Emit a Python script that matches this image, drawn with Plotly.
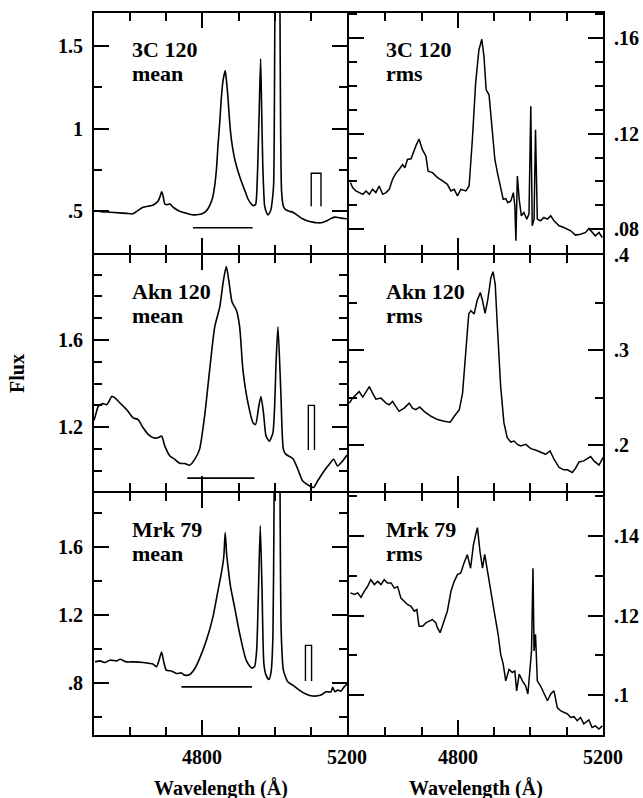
import plotly.graph_objects as go
from plotly.subplots import make_subplots

# ---------------- data ----------------
# 3C 120 mean
wl_3c120_mean = [4503, 4520, 4544, 4570, 4590, 4608, 4622, 4636, 4650, 4664, 4677, 4683, 4687, 4691, 4696,
                 4703, 4710, 4719, 4737, 4755, 4774, 4790, 4802, 4812, 4820, 4828, 4834, 4839, 4843, 4848,
                 4852, 4857, 4863, 4867, 4871, 4875, 4880, 4887, 4894, 4903, 4912, 4920, 4926, 4933,
                 4940, 4947, 4950, 4953, 4957, 4961, 4964, 4967, 4970, 4972, 4976, 4981, 4986, 4990,
                 4994, 4997, 5000, 5002, 5007, 5013, 5015, 5019, 5024, 5030, 5040, 5050, 5063, 5077,
                 5090, 5105, 5118, 5128, 5138, 5146, 5155, 5165, 5175, 5183, 5192, 5200]
flux_3c120_mean = [0.504, 0.497, 0.494, 0.490, 0.487, 0.484, 0.505, 0.524, 0.530, 0.538, 0.560, 0.590, 0.618, 0.595, 0.544,
                   0.540, 0.544, 0.524, 0.500, 0.488, 0.478, 0.480, 0.488, 0.505, 0.534, 0.580, 0.655, 0.760, 0.896, 1.040,
                   1.177, 1.290, 1.351, 1.280, 1.177, 1.050, 0.936, 0.840, 0.775, 0.710, 0.655, 0.610, 0.574, 0.550,
                   0.534, 0.540, 0.600, 0.775, 1.100, 1.422, 1.100, 0.775, 0.600, 0.534, 0.500, 0.478, 0.490, 0.514,
                   0.580, 0.660, 1.500, 2.500, 4.000, 2.500, 1.500, 0.620, 0.530, 0.510, 0.500, 0.494, 0.475, 0.454,
                   0.442, 0.434, 0.430, 0.430, 0.436, 0.444, 0.455, 0.464, 0.462, 0.458, 0.456, 0.454]

# 3C 120 rms
wl_3c120_rms = [4504, 4510, 4519, 4528, 4538, 4547, 4556, 4565, 4574, 4583, 4593, 4602, 4611, 4620, 4629, 4638,
                4648, 4654, 4661, 4671, 4678, 4684, 4693, 4702, 4712, 4718, 4730, 4744, 4758, 4771, 4781,
                4790, 4799, 4808, 4822, 4831, 4840, 4849, 4858, 4866, 4872, 4878, 4886, 4895, 4902, 4909,
                4918, 4925, 4932, 4938, 4946, 4953, 4957, 4960, 4964, 4969, 4975, 4982, 4990, 4996, 5001,
                5005, 5010, 5014, 5019, 5028, 5037, 5047, 5056, 5065, 5079, 5092, 5111, 5124, 5138, 5152,
                5161, 5170, 5179, 5189, 5198]
flux_3c120_rms = [0.0995, 0.0974, 0.0960, 0.0953, 0.0946, 0.0960, 0.0946, 0.0967, 0.0953, 0.0981, 0.0946, 0.0953,
                  0.0967, 0.1009, 0.1034, 0.1050, 0.1071, 0.1057, 0.1092, 0.1095, 0.1127, 0.1148, 0.1178, 0.1134,
                  0.1106, 0.1043, 0.1037, 0.1016, 0.1002, 0.0988, 0.0960, 0.0967, 0.0939, 0.0967, 0.0960, 0.0981,
                  0.1176, 0.1412, 0.1551, 0.1596, 0.1523, 0.1384, 0.1363, 0.1217, 0.1092, 0.1037, 0.0981, 0.0925,
                  0.0928, 0.0911, 0.0918, 0.0953, 0.0897, 0.0751, 0.1023, 0.0925, 0.0856, 0.0870, 0.0842, 0.0863,
                  0.1315, 0.0814, 0.0842, 0.1217, 0.0842, 0.0835, 0.0849, 0.0842, 0.0856, 0.0835, 0.0814, 0.0807,
                  0.0793, 0.0775, 0.0779, 0.0786, 0.0803, 0.0786, 0.0772, 0.0786, 0.0765]

# Akn 120 mean
wl_akn120_mean = [4500, 4505, 4512, 4520, 4526, 4535, 4542, 4549, 4558, 4572, 4590, 4608, 4622, 4636, 4650, 4664,
                  4677, 4687, 4696, 4710, 4723, 4737, 4751, 4765, 4779, 4792, 4806, 4820, 4834, 4848, 4858,
                  4866, 4873, 4882, 4894, 4903, 4912, 4926, 4940, 4947, 4956, 4962, 4969, 4976, 4985, 4995,
                  5004, 5009, 5017, 5024, 5031, 5050, 5064, 5077, 5096, 5107, 5119, 5137, 5151, 5163, 5174,
                  5188, 5200]
flux_akn120_mean = [1.230, 1.260, 1.296, 1.305, 1.308, 1.303, 1.320, 1.341, 1.334, 1.311, 1.281, 1.243, 1.235, 1.197,
                    1.167, 1.151, 1.151, 1.159, 1.113, 1.068, 1.053, 1.034, 1.033, 1.025, 1.053, 1.098, 1.250,
                    1.463, 1.660, 1.752, 1.873, 1.937, 1.873, 1.774, 1.736, 1.660, 1.463, 1.311, 1.220, 1.212,
                    1.296, 1.341, 1.265, 1.159, 1.136, 1.174, 1.508, 1.660, 1.357, 1.098, 1.075, 1.056, 1.007,
                    0.954, 0.931, 0.923, 0.954, 1.000, 1.030, 1.053, 1.022, 1.045, 1.072]

# Akn 120 rms
wl_akn120_rms = [4501, 4510, 4519, 4528, 4538, 4547, 4556, 4565, 4574, 4588, 4602, 4611, 4620, 4629, 4638, 4652,
                 4666, 4675, 4684, 4695, 4707, 4726, 4744, 4762, 4779, 4790, 4804, 4813, 4822, 4830, 4836,
                 4845, 4853, 4862, 4868, 4875, 4882, 4891, 4897, 4903, 4909, 4918, 4927, 4936, 4946, 4955,
                 4964, 4973, 4987, 5001, 5014, 5028, 5042, 5054, 5065, 5079, 5092, 5102, 5115, 5124, 5134,
                 5147, 5166, 5175, 5189, 5200]
flux_akn120_rms = [0.2444, 0.2497, 0.2531, 0.2566, 0.2507, 0.2566, 0.2618, 0.2549, 0.2486, 0.2497, 0.2444, 0.2427,
                   0.2462, 0.2410, 0.2358, 0.2392, 0.2444, 0.2392, 0.2375, 0.2403, 0.2358, 0.2306, 0.2271, 0.2253,
                   0.2243, 0.2306, 0.2375, 0.2549, 0.2965, 0.3382, 0.3417, 0.3382, 0.3521, 0.3608, 0.3521, 0.3389,
                   0.3521, 0.3764, 0.3826, 0.3694, 0.3243, 0.2618, 0.2236, 0.2080, 0.2035, 0.2045, 0.2010, 0.1993,
                   0.2010, 0.1965, 0.1951, 0.1931, 0.1906, 0.1941, 0.1854, 0.1767, 0.1743, 0.1743, 0.1715, 0.1757,
                   0.1826, 0.1837, 0.1882, 0.1837, 0.1792, 0.1872]

# Mrk 79 mean
wl_mrk79_mean = [4503, 4517, 4530, 4544, 4563, 4572, 4590, 4608, 4636, 4664, 4673, 4680, 4687, 4693, 4700, 4714,
                 4728, 4742, 4751, 4765, 4779, 4792, 4811, 4829, 4843, 4852, 4859, 4863, 4867, 4871, 4878,
                 4889, 4903, 4921, 4935, 4944, 4950, 4955, 4960, 4965, 4970, 4976, 4984, 4990, 4995, 4998,
                 5002, 5007, 5012, 5015, 5018, 5024, 5036, 5050, 5068, 5086, 5105, 5128, 5142, 5156, 5160,
                 5167, 5174, 5183, 5192, 5200]
flux_mrk79_mean = [0.927, 0.933, 0.923, 0.937, 0.933, 0.942, 0.927, 0.927, 0.923, 0.913, 0.898, 0.937, 0.985, 0.927,
                   0.878, 0.874, 0.859, 0.862, 0.849, 0.853, 0.888, 0.946, 1.054, 1.190, 1.346, 1.444, 1.542,
                   1.688, 1.560, 1.483, 1.366, 1.249, 1.093, 0.937, 0.892, 0.898, 0.995, 1.346, 1.727, 1.346,
                   0.917, 0.849, 0.823, 0.868, 1.073, 1.800, 3.000, 3.500, 3.000, 1.800, 1.100, 0.878, 0.810,
                   0.790, 0.761, 0.738, 0.726, 0.732, 0.751, 0.751, 0.777, 0.751, 0.761, 0.755, 0.780, 0.796]

# Mrk 79 rms
wl_mrk79_rms = [4504, 4515, 4524, 4533, 4542, 4551, 4560, 4570, 4579, 4588, 4597, 4606, 4616, 4625, 4634, 4643,
                4652, 4661, 4671, 4680, 4687, 4693, 4703, 4712, 4721, 4730, 4739, 4744, 4751, 4762, 4771,
                4781, 4790, 4799, 4808, 4817, 4826, 4835, 4843, 4849, 4854, 4861, 4868, 4874, 4881, 4891,
                4900, 4911, 4918, 4925, 4932, 4941, 4950, 4957, 4962, 4969, 4978, 4987, 4993, 4999, 5003,
                5007, 5010, 5014, 5019, 5028, 5037, 5047, 5056, 5065, 5074, 5083, 5092, 5102, 5111, 5120,
                5129, 5138, 5147, 5161, 5170, 5179, 5189, 5198]
flux_mrk79_rms = [0.1257, 0.1253, 0.1257, 0.1246, 0.1261, 0.1273, 0.1290, 0.1278, 0.1286, 0.1278, 0.1290, 0.1282,
                  0.1282, 0.1269, 0.1273, 0.1244, 0.1236, 0.1228, 0.1223, 0.1211, 0.1215, 0.1173, 0.1173, 0.1182,
                  0.1186, 0.1190, 0.1182, 0.1169, 0.1157, 0.1190, 0.1211, 0.1261, 0.1286, 0.1303, 0.1307, 0.1332,
                  0.1353, 0.1319, 0.1378, 0.1403, 0.1421, 0.1361, 0.1319, 0.1354, 0.1319, 0.1261, 0.1211, 0.1153,
                  0.1103, 0.1078, 0.1036, 0.1065, 0.1057, 0.1061, 0.1011, 0.1053, 0.1036, 0.1023, 0.1003, 0.1065,
                  0.1111, 0.1319, 0.1111, 0.1153, 0.1036, 0.1023, 0.1007, 0.0986, 0.1003, 0.1011, 0.0969, 0.0961,
                  0.0957, 0.0953, 0.0944, 0.0946, 0.0936, 0.0944, 0.0928, 0.0938, 0.0919, 0.0923, 0.0915, 0.0923]

# Hbeta integration windows (start, end, level) and continuum-window markers (start, end, bottom, top)
hb_window = {"3C 120": (4774, 4939, 0.40), "Akn 120": (4758, 4944, 0.966), "Mrk 79": (4742, 4937, 0.78)}
cont_window = {"3C 120": (5101, 5128, 0.53, 0.73), "Akn 120": (5093, 5110, 1.095, 1.30),
               "Mrk 79": (5085, 5102, 0.815, 1.024)}

objects = ["3C 120", "Akn 120", "Mrk 79"]
mean_data = [(wl_3c120_mean, flux_3c120_mean), (wl_akn120_mean, flux_akn120_mean), (wl_mrk79_mean, flux_mrk79_mean)]
rms_data = [(wl_3c120_rms, flux_3c120_rms), (wl_akn120_rms, flux_akn120_rms), (wl_mrk79_rms, flux_mrk79_rms)]

x_range = [4500, 5200]
x_label_ticks = [4800, 5200]
mean_yranges = [[0.247, 1.70], [0.907, 1.99], [0.497, 1.92]]
rms_yranges = [[0.070, 0.1706], [0.152, 0.4002], [0.090, 0.1508]]
mean_ydtick = [(0.5, 0.25), (0.4, 0.1), (0.4, 0.2)]
rms_ydtick = [(0.04, 0.01), (0.1, 0.05), (0.02, 0.01)]
label_alias = {"0.5": ".5", "0.8": ".8", "0.08": ".08", "0.12": ".12", "0.16": ".16",
               "0.2": ".2", "0.3": ".3", "0.4": ".4", "0.1": ".1", "0.14": ".14"}

# ---------------- figure ----------------
W, H = 643, 798
FONT = "Liberation Serif"
LW = 2
fig = make_subplots(rows=3, cols=2, horizontal_spacing=0, vertical_spacing=0)

line_style = dict(color="black", width=1.6)
for i, name in enumerate(objects):
    r = i + 1
    wl, fl = mean_data[i]
    fig.add_trace(go.Scatter(x=wl, y=fl, mode="lines", line=dict(shape="spline", smoothing=0.6, **line_style),
                             showlegend=False, hoverinfo="skip"), row=r, col=1)
    a, b, lev = hb_window[name]
    fig.add_trace(go.Scatter(x=[a, b], y=[lev, lev], mode="lines", line=line_style,
                             showlegend=False, hoverinfo="skip"), row=r, col=1)
    c0, c1, lo, hi = cont_window[name]
    fig.add_trace(go.Scatter(x=[c0, c0, c1, c1], y=[lo, hi, hi, lo], mode="lines",
                             line=dict(color="black", width=1.4), showlegend=False, hoverinfo="skip"),
                  row=r, col=1)
    wl, fl = rms_data[i]
    fig.add_trace(go.Scatter(x=wl, y=fl, mode="lines", line=dict(color="black", width=1.5),
                             showlegend=False, hoverinfo="skip"), row=r, col=2)

# panel geometry (pixels); inner edges pulled apart by the line width so shared frame lines coincide
x_edges = [94, 348, 603]
y_edges = [13, 254, 492, 735]
half = LW / 2

def py(p):
    return 1 - p / H

tickfont = dict(family=FONT, size=20, color="black", weight="bold")
common_axis = dict(showline=True, linewidth=LW, linecolor="black", mirror="allticks",
                   ticks="inside", ticklen=15, tickwidth=1.5, tickcolor="black", automargin=False,
                   showgrid=False, zeroline=False, tickfont=tickfont, labelalias=label_alias)

for i in range(3):
    for j in range(2):
        k = i * 2 + j + 1
        xname = "xaxis" if k == 1 else f"xaxis{k}"
        yname = "yaxis" if k == 1 else f"yaxis{k}"
        xl = x_edges[j] + (half if j == 1 else 0)
        xr = x_edges[j + 1] - (half if j == 0 else 0)
        yt = y_edges[i] + (half if i > 0 else 0)
        yb = y_edges[i + 1] - (half if i < 2 else 0)
        xa = dict(common_axis)
        xa.update(domain=[xl / W, xr / W], range=x_range,
                  tickmode="linear", tick0=4400, dtick=400,
                  minor=dict(tick0=4500, dtick=100, ticklen=8, tickwidth=1.5, ticks="inside", tickcolor="black"),
                  showticklabels=False)
        ya = dict(common_axis)
        if j == 0:
            rng = mean_yranges[i]; dt, mdt = mean_ydtick[i]; side = "left"
        else:
            rng = rms_yranges[i]; dt, mdt = rms_ydtick[i]; side = "right"
        ya.update(domain=[py(yb), py(yt)], range=rng,
                  tickmode="linear", tick0=0, dtick=dt, side=side,
                  minor=dict(tick0=0, dtick=mdt, ticklen=8, tickwidth=1.5, ticks="inside", tickcolor="black"),
                  ticklabelstandoff=5)
        fig.layout[xname].update(xa)
        fig.layout[yname].update(ya)

annots = []
lab_font = dict(family=FONT, size=22, color="black", weight="bold")
for i, name in enumerate(objects):
    top = y_edges[i]
    for j, sub in enumerate(["mean", "rms"]):
        x0 = x_edges[j] + 36
        annots.append(dict(x=x0 / W, y=py(top + 37), xref="paper", yref="paper", text=name,
                           showarrow=False, xanchor="left", yanchor="middle", font=lab_font))
        annots.append(dict(x=x0 / W, y=py(top + 61), xref="paper", yref="paper", text=sub,
                           showarrow=False, xanchor="left", yanchor="middle", font=lab_font))

# x tick labels of the bottom row, placed on the bottom axes' own scale
for xref in ["x5", "x6"]:
    for v in x_label_ticks:
        annots.append(dict(x=v, y=py(757), xref=xref, yref="paper", text=str(v), showarrow=False,
                           xanchor="center", yanchor="middle", font=tickfont))

title_font = dict(family=FONT, size=20, color="black", weight="bold")
annots.append(dict(x=17 / W, y=py(374), xref="paper", yref="paper", text="Flux", textangle=-90,
                   showarrow=False, xanchor="center", yanchor="middle", font=title_font))
for j in range(2):
    cx = (x_edges[j] + x_edges[j + 1]) / 2
    annots.append(dict(x=cx / W, y=py(788), xref="paper", yref="paper", text="Wavelength (Å)",
                       showarrow=False, xanchor="center", yanchor="middle", font=title_font))

fig.update_layout(width=W, height=H, margin=dict(l=0, r=0, t=0, b=0),
                  paper_bgcolor="white", plot_bgcolor="white", annotations=annots,
                  font=dict(family=FONT, color="black"))

fig.write_html("out.html", config={"displayModeBar": False},
               post_script="document.body.style.margin='0px';document.body.style.padding='0px';"
                           "document.body.style.overflow='hidden';")
